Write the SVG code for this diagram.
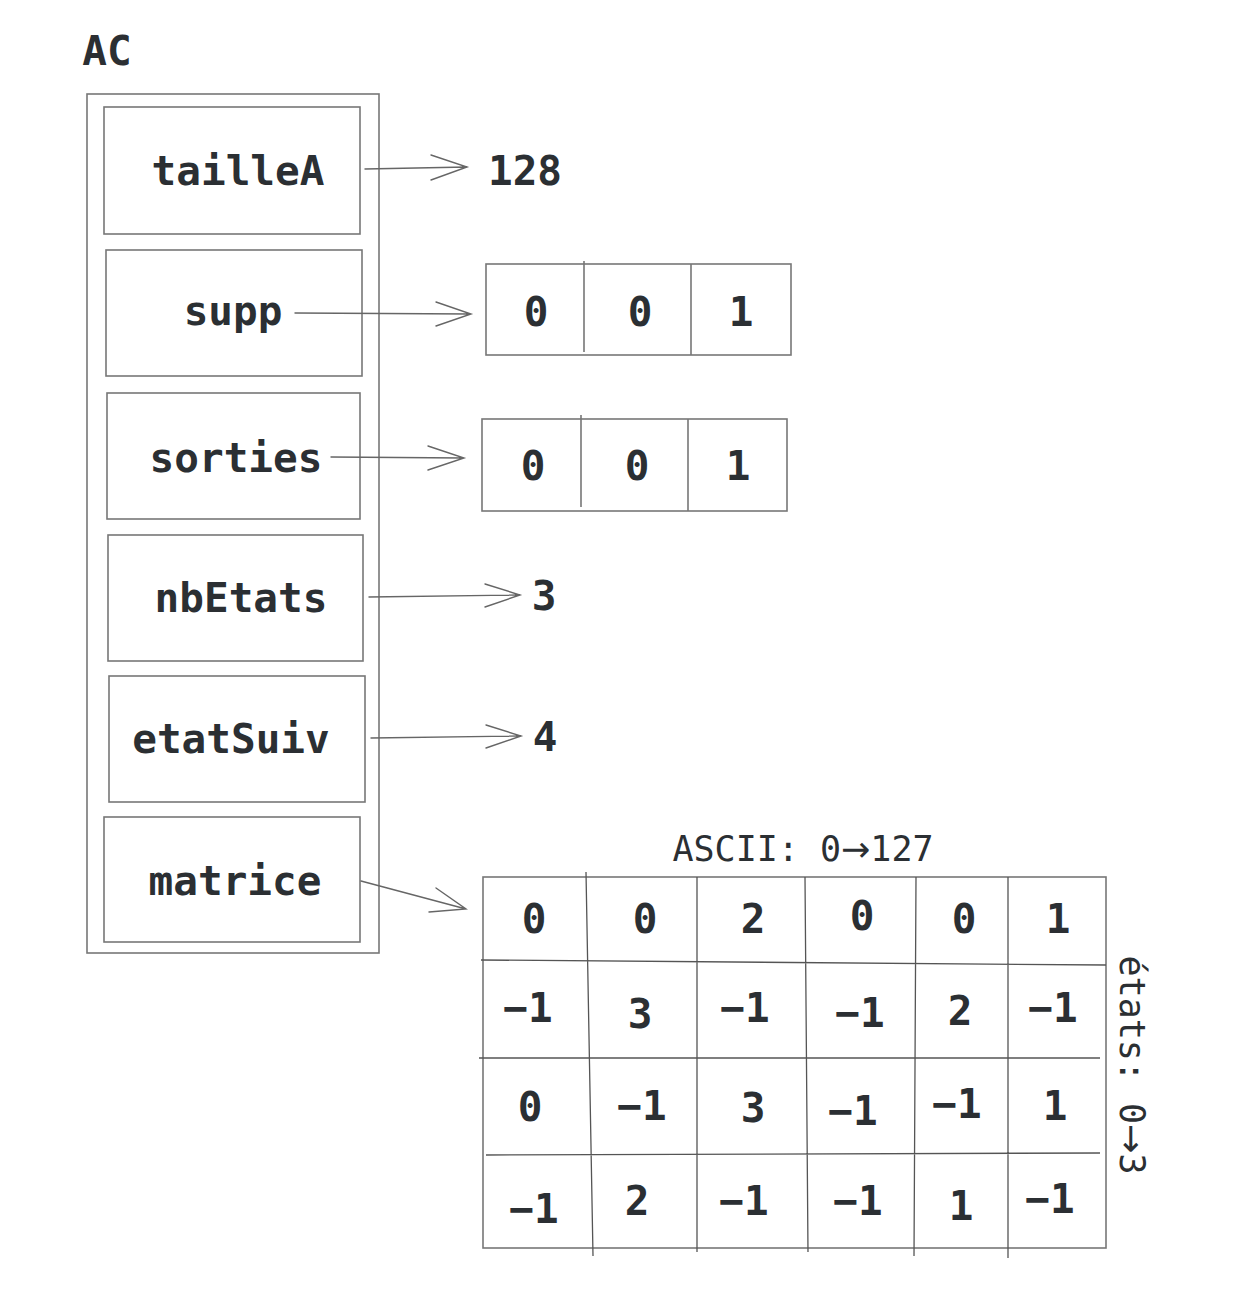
<svg xmlns="http://www.w3.org/2000/svg" width="1250" height="1290" viewBox="0 0 1250 1290">
<style>
.box{fill:none;stroke:#777;stroke-width:1.6}
.ln{fill:none;stroke:#555;stroke-width:1.3}
.t{font-family:"DejaVu Sans Mono","Liberation Mono",monospace;fill:#2b2f33;font-size:41px;font-weight:bold;text-anchor:middle}
.s{font-size:35px;font-weight:normal}
.ar{font-family:"DejaVu Sans",sans-serif;font-weight:normal}
.a{fill:none;stroke:#666;stroke-width:1.4;stroke-linecap:round}
</style>
<rect width="1250" height="1290" fill="#fff"/>
<text class="t" x="107" y="65">AC</text>
<g id="AC">
<rect class="box" x="87" y="94" width="292" height="859"/>
</g>
<g id="tailleA"><rect class="box" x="104" y="107" width="256" height="127"/><text class="t" x="238" y="185">tailleA</text></g>
<g id="supp"><rect class="box" x="106" y="250" width="256" height="126"/><text class="t" x="233" y="325">supp</text></g>
<g id="sorties"><rect class="box" x="107" y="393" width="253" height="126"/><text class="t" x="236" y="472">sorties</text></g>
<g id="nbEtats"><rect class="box" x="108" y="535" width="255" height="126"/><text class="t" x="241" y="612">nbEtats</text></g>
<g id="etatSuiv"><rect class="box" x="109" y="676" width="256" height="126"/><text class="t" x="231" y="753">etatSuiv</text></g>
<g id="matrice"><rect class="box" x="104" y="817" width="256" height="125"/><text class="t" x="235" y="895">matrice</text></g>
<g id="val128"><text class="t" x="525" y="185">128</text></g>
<g id="val3"><text class="t" x="544" y="610">3</text></g>
<g id="val4"><text class="t" x="545" y="751">4</text></g>
<g id="suppArray">
<rect class="box" x="486" y="264" width="305" height="91"/>
<path class="box" d="M584 261 L584 352 M691 264 L691 355"/>
<text class="t" x="536" y="326">0</text><text class="t" x="640" y="326">0</text><text class="t" x="741" y="326">1</text>
</g>
<g id="sortiesArray">
<rect class="box" x="482" y="419" width="305" height="92"/>
<path class="box" d="M581 415 L581 507 M688 419 L688 511"/>
<text class="t" x="533" y="480">0</text><text class="t" x="637" y="480">0</text><text class="t" x="738" y="480">1</text>
</g>
<g id="matriceTable">
<text class="t s" x="803" y="861">ASCII: 0<tspan class="ar">→</tspan>127</text>
<rect class="box" x="483" y="877" width="623" height="371"/>
<path class="ln" d="M586 872 L593 1256 M697 877 L697 1252 M805 877 L808 1252 M916 877 L914 1256 M1008 877 L1008 1258 M481 960 L1106 965 M479 1058 L1100 1058 M486 1155 L1100 1153"/>
<text class="t" x="534" y="933">0</text><text class="t" x="645" y="933">0</text><text class="t" x="753" y="933">2</text><text class="t" x="862" y="930">0</text><text class="t" x="964" y="933">0</text><text class="t" x="1058" y="933">1</text>
<text class="t" x="528" y="1022">−1</text><text class="t" x="640" y="1028">3</text><text class="t" x="745" y="1022">−1</text><text class="t" x="860" y="1027">−1</text><text class="t" x="960" y="1025">2</text><text class="t" x="1053" y="1022">−1</text>
<text class="t" x="530" y="1121">0</text><text class="t" x="642" y="1120">−1</text><text class="t" x="753" y="1122">3</text><text class="t" x="853" y="1125">−1</text><text class="t" x="957" y="1118">−1</text><text class="t" x="1055" y="1120">1</text>
<text class="t" x="534" y="1223">−1</text><text class="t" x="637" y="1215">2</text><text class="t" x="744" y="1215">−1</text><text class="t" x="858" y="1215">−1</text><text class="t" x="961" y="1220">1</text><text class="t" x="1050" y="1213">−1</text>
<text class="t s" transform="translate(1120,1065) rotate(90)">états: 0<tspan class="ar">→</tspan>3</text>
</g>
<g id="connectors">
<path class="a" d="M365 169 L467 167 M431 155 L467 167 L431 180"/>
<path class="a" d="M295 313 L471 314 M436 302 L471 314 L436 326"/>
<path class="a" d="M331 457 L464 458 M428 446 L464 458 L428 470"/>
<path class="a" d="M369 597 L520 595 M485 584 L520 595 L485 607"/>
<path class="a" d="M371 738 L521 736 M486 725 L521 736 L486 748"/>
<path class="a" d="M361 881 L466 909 M436 888 L466 909 L429 912"/>
</g>
</svg>
